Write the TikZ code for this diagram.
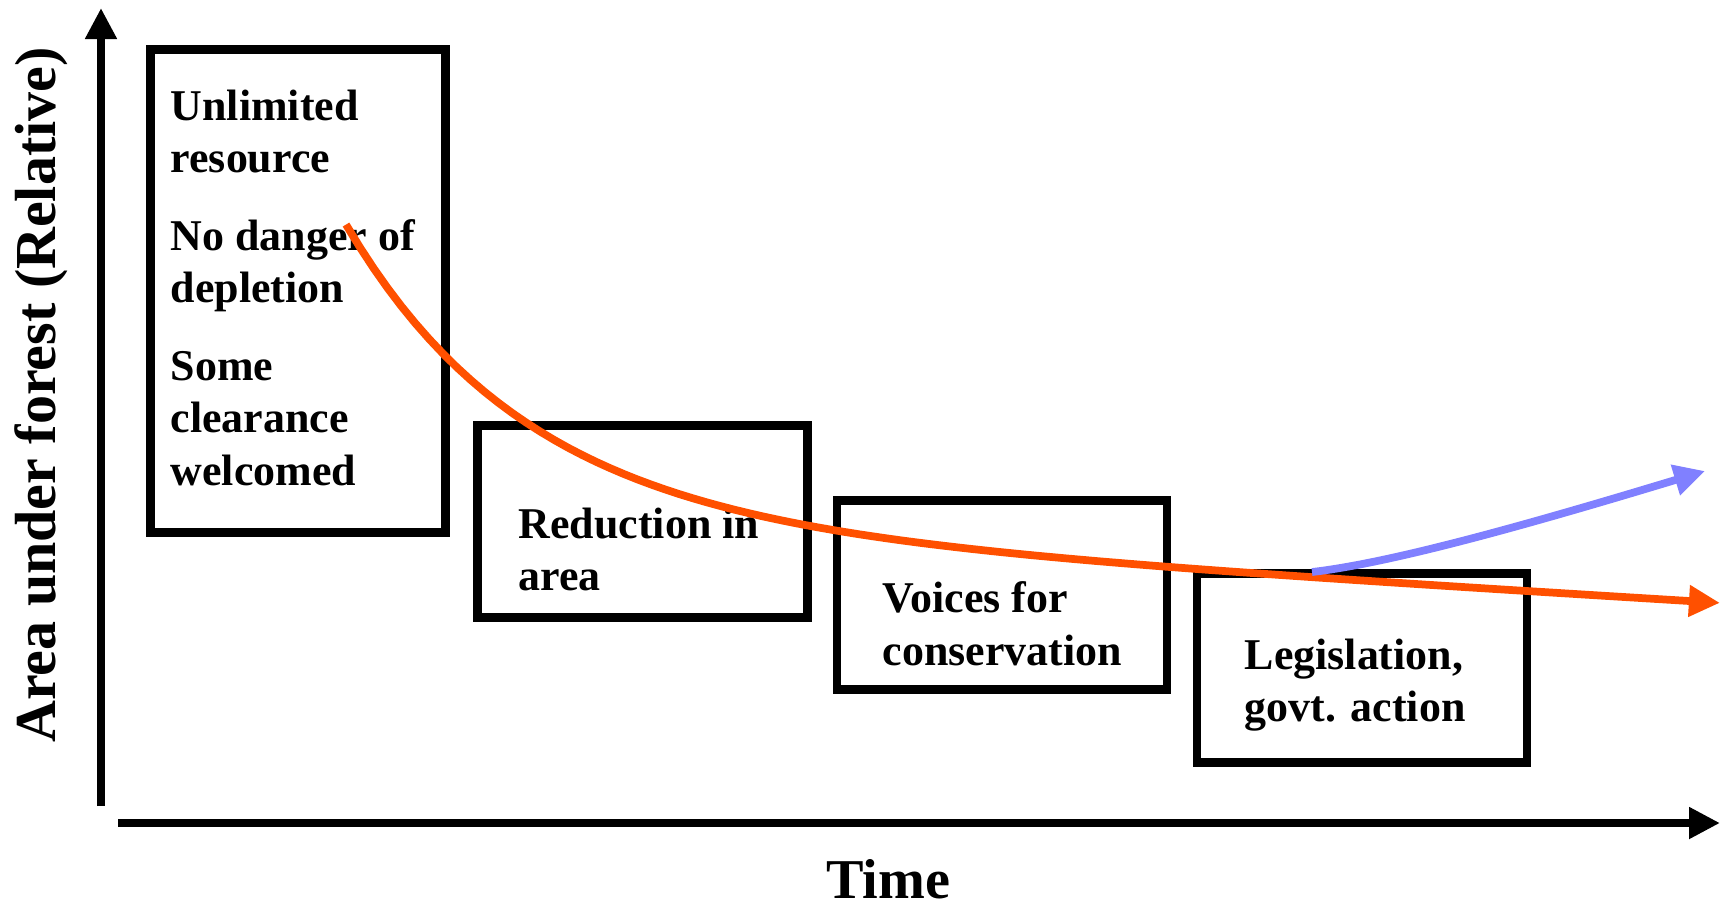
\documentclass[tikz,border=0pt]{standalone}
\usepackage{fontspec}
\setmainfont{Liberation Serif}
\usepackage{tikz}
\usetikzlibrary{arrows.meta}

\definecolor{declinecol}{RGB}{255,80,0}
\definecolor{recovercol}{RGB}{128,128,255}
\tikzset{
	stagebox/.style={draw, line width=2.4pt, inner sep=0pt},
	stagetext/.style={anchor=north west, inner sep=0pt, align=left, font=\fontsize{12.5}{15}\selectfont\bfseries},
	axisline/.style={line width=2.5pt, -{Triangle[length=0.31cm,width=0.30cm]}},
	trend/.style={line width=2.2pt, -{Triangle[length=0.31cm,width=0.30cm]}}
}

\begin{document}
\begin{tikzpicture}
	\useasboundingbox (0,0) rectangle (17.24,9.05);

	% axes
	\coordinate (ybot) at (1.01,0.99);
	\coordinate (ytop) at (1.01,8.97);
	\coordinate (xleft) at (1.18,0.82);
	\coordinate (xright) at (17.20,0.82);
	\draw[axisline] (ybot) -- (ytop);
	\draw[axisline] (xleft) -- (xright);
	\node[font=\fontsize{16}{19}\selectfont\bfseries, anchor=base] (timelabel) at (8.88,0.07) {Time};
	\node[font=\fontsize{16.5}{20}\selectfont\bfseries, rotate=90] (arealabel) at (0.41,5.10) {Area under forest (Relative)};

	% stages
	\node[stagebox, minimum width=2.95cm, minimum height=4.83cm] (unlimited) at (2.98,6.14) {};
	\node[stagebox, minimum width=3.30cm, minimum height=1.92cm] (reduction) at (6.425,3.835) {};
	\node[stagebox, minimum width=3.30cm, minimum height=1.89cm] (voices) at (10.02,3.10) {};
	\node[stagebox, minimum width=3.30cm, minimum height=1.89cm] (legislation) at (13.62,2.37) {};

	\node[stagetext] (unlimitedtext) at (1.70,8.16) {Unlimited\\resource\\[7pt]No danger of\\depletion\\[7pt]Some\\clearance\\welcomed};
	\node[stagetext] (reductiontext) at (5.18,3.98) {Reduction in\\area};
	\node[stagetext] (voicestext) at (8.82,3.24) {Voices for\\conservation};
	\node[stagetext] (legislationtext) at (12.44,2.67) {Legislation,\\govt. action};

	% trends
	\draw[trend, declinecol] plot[domain=3.46:17.2, samples=100] (\x,{3.02+0.06*(17.2-\x)+2.96*exp(-(\x-3.46)/1.8)});
	\coordinate (fork) at (13.12,3.33);
	\coordinate (recoverend) at (17.05,4.34);
	\draw[trend, recovercol] (fork) .. controls (13.9,3.42) and (15.2,3.78) .. (recoverend);
\end{tikzpicture}
\end{document}
